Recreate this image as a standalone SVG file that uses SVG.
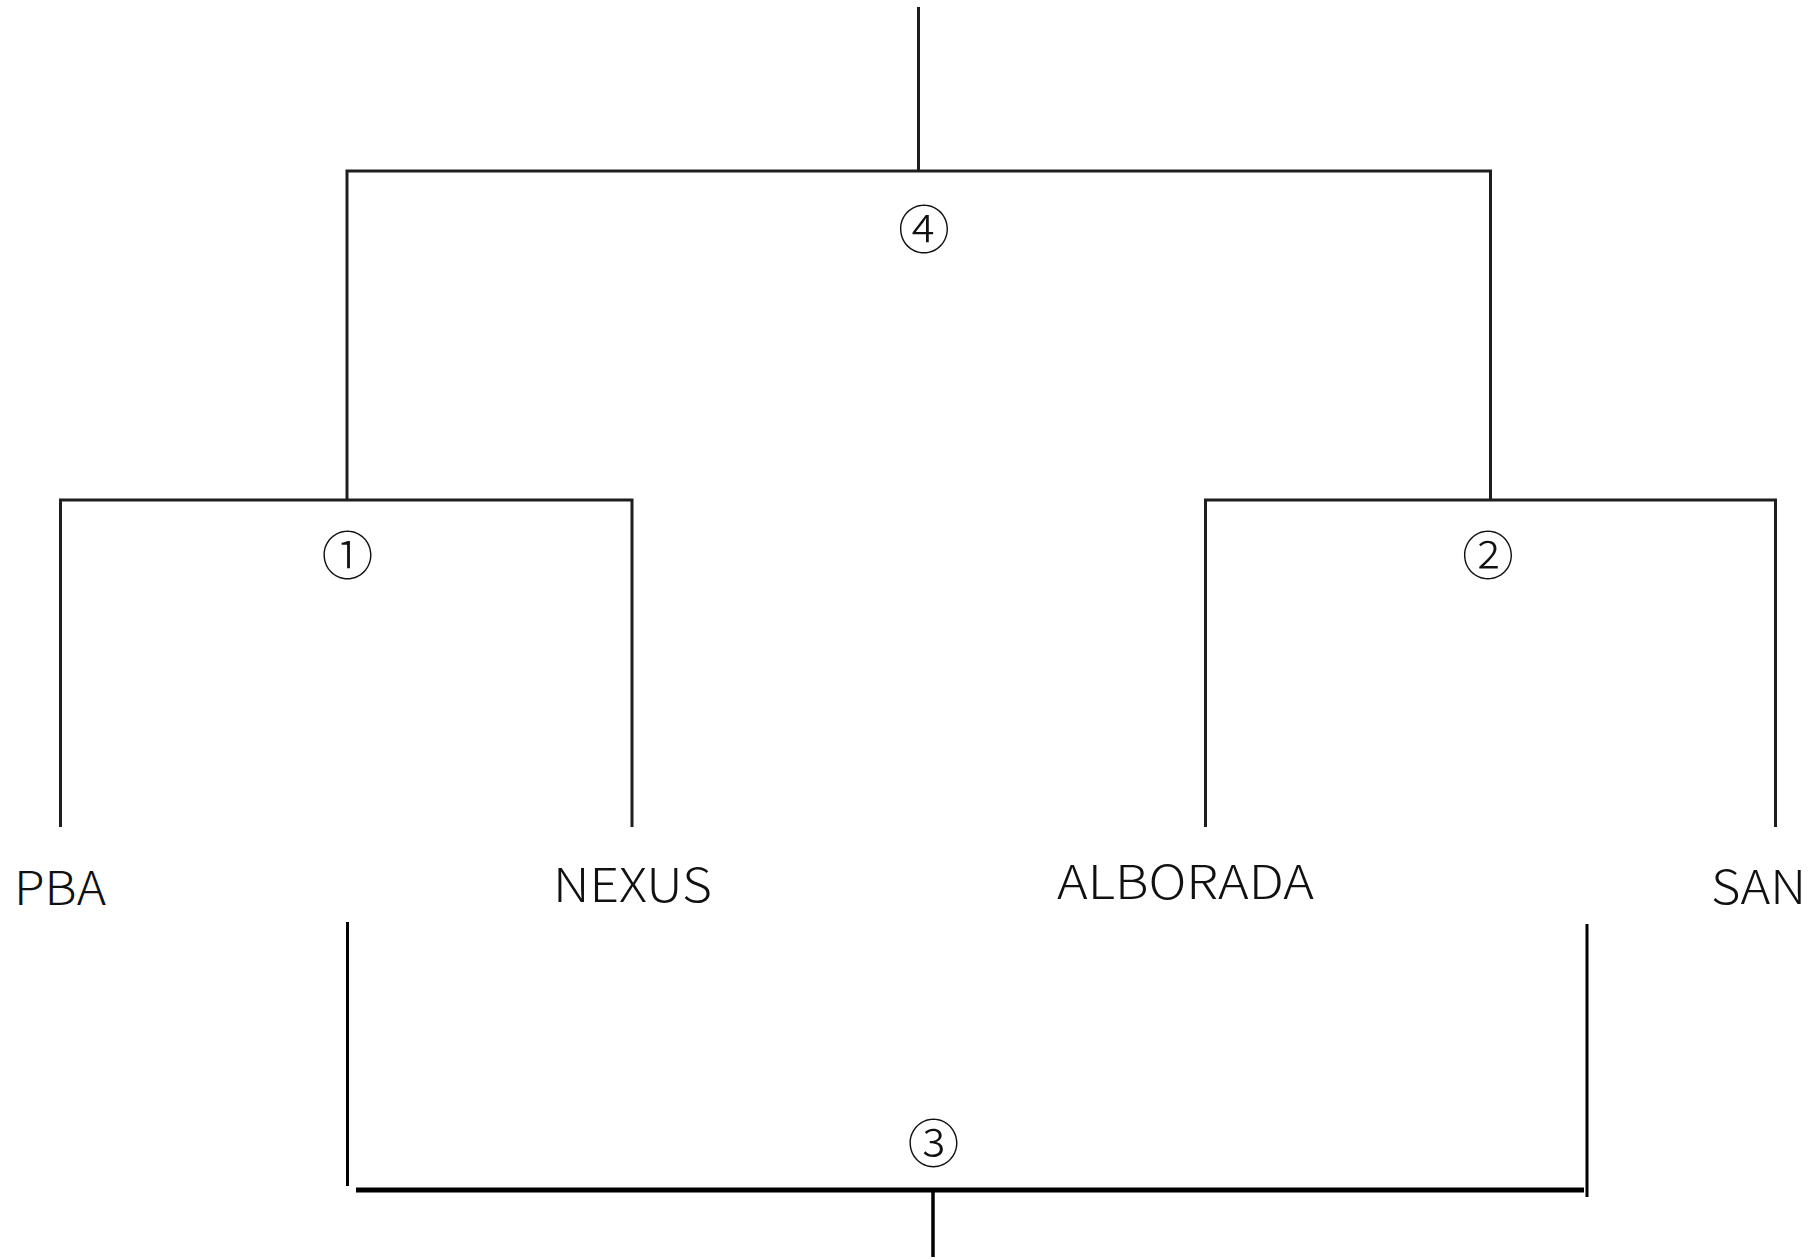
<svg xmlns="http://www.w3.org/2000/svg" width="1816" height="1260" viewBox="0 0 1816 1260">
<style>
.ln{stroke:#1e1e1e;stroke-width:3;fill:none;stroke-linecap:butt}
.lnb{stroke:#000;fill:none}
.lbl{font-family:"Noto Sans CJK JP","Liberation Sans",sans-serif;font-weight:300;font-size:46px;fill:#111}
.num{font-family:"Noto Sans CJK JP","DejaVu Sans",sans-serif;font-weight:300;font-size:52px;fill:#111;text-anchor:middle;dominant-baseline:central}
</style>
<rect width="1816" height="1260" fill="#fff"/>
<g id="connectors">
<line class="ln" x1="918.5" y1="7" x2="918.5" y2="171"/>
<polyline class="ln" points="347,500 347,171 1490.5,171 1490.5,500"/>
<polyline class="ln" points="60.5,827 60.5,500 632,500 632,827"/>
<polyline class="ln" points="1205.5,827 1205.5,500 1775.5,500 1775.5,827"/>
<line class="lnb" stroke-width="3" x1="347.5" y1="922" x2="347.5" y2="1186"/>
<line class="lnb" stroke-width="3" x1="1587" y1="924" x2="1587" y2="1197"/>
<line class="lnb" stroke-width="5" x1="356" y1="1190" x2="1584" y2="1190"/>
<line class="lnb" stroke-width="3.5" x1="933" y1="1190" x2="933" y2="1257"/>
</g>
<g id="m4"><text class="num" x="924" y="226.5">④</text></g>
<g id="m1"><text class="num" x="347.5" y="552">①</text></g>
<g id="m2"><text class="num" x="1488" y="552.5">②</text></g>
<g id="m3"><text class="num" x="933.5" y="1140">③</text></g>
<g id="pba"><text class="lbl" x="14" y="905" textLength="92" lengthAdjust="spacingAndGlyphs">PBA</text></g>
<g id="nexus"><text class="lbl" x="553" y="902" textLength="159" lengthAdjust="spacingAndGlyphs">NEXUS</text></g>
<g id="alborada"><text class="lbl" x="1057" y="899" textLength="257" lengthAdjust="spacingAndGlyphs">ALBORADA</text></g>
<g id="san"><text class="lbl" x="1711" y="904" textLength="95" lengthAdjust="spacingAndGlyphs">SAN</text></g>
</svg>
